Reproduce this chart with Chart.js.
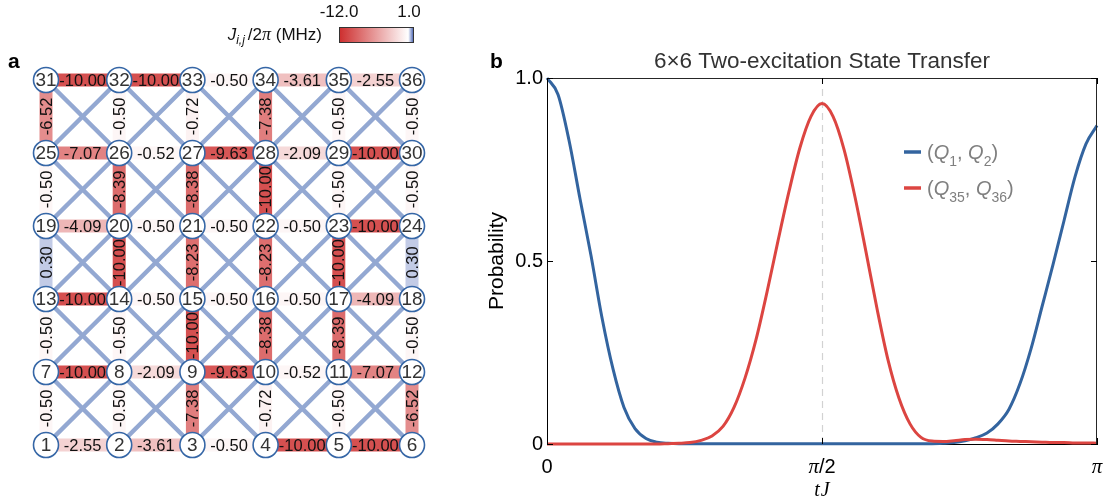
<!DOCTYPE html>
<html><head><meta charset="utf-8">
<script src="https://cdn.jsdelivr.net/npm/chart.js@4.4.1/dist/chart.umd.min.js"></script>
<style>
html,body{margin:0;padding:0;background:#fff;}
#wrap{position:relative;width:1106px;height:502px;overflow:hidden;}
#ca{position:absolute;left:0;top:0;}
#cb{position:absolute;left:440px;top:0;}
</style></head><body>
<div id="wrap">
<canvas id="ca" width="450" height="502"></canvas>
<canvas id="cb" width="666" height="502"></canvas>
</div>
<script>
// ---------------- DATA ----------------
const nodeLabels = [1,2,3,4,5,6,7,8,9,10,11,12,13,14,15,16,17,18,19,20,21,22,23,24,25,26,27,28,29,30,31,32,33,34,35,36];
// horizontal couplings, row by row from bottom (Q1..Q6) to top (Q31..Q36)
const hCouplings = [
  [-2.55, -3.61, -0.50, -10.00, -10.00],
  [-10.00, -2.09, -9.63, -0.52, -7.07],
  [-10.00, -0.50, -0.50, -0.50, -4.09],
  [-4.09, -0.50, -0.50, -0.50, -10.00],
  [-7.07, -0.52, -9.63, -2.09, -10.00],
  [-10.00, -10.00, -0.50, -3.61, -2.55]
];
// vertical couplings between row r and row r+1, columns 1..6
const vCouplings = [
  [-0.50, -0.50, -7.38, -0.72, -0.50, -6.52],
  [-0.50, -0.50, -10.00, -8.38, -8.39, -0.50],
  [0.30, -10.00, -8.23, -8.23, -10.00, 0.30],
  [-0.50, -8.39, -8.38, -10.00, -0.50, -0.50],
  [-6.52, -0.50, -0.72, -7.38, -0.50, -0.50]
];
const colorbarTicks = ['-12.0', '1.0'];

// panel b: time in units of pi (tJ / pi)
const tFrac = [0.00,0.02,0.04,0.06,0.08,0.10,0.12,0.14,0.16,0.18,0.20,0.22,0.24,0.26,0.28,0.30,0.32,0.34,0.36,0.38,0.40,0.42,0.44,0.46,0.48,0.50,0.52,0.54,0.56,0.58,0.60,0.62,0.64,0.66,0.68,0.70,0.72,0.74,0.76,0.78,0.80,0.82,0.84,0.86,0.88,0.90,0.92,0.94,0.96,0.98,1.00];
const pQ1Q2 = [1.000,0.955,0.830,0.670,0.515,0.345,0.205,0.100,0.042,0.015,0.005,0.002,0.001,0.001,0.001,0.001,0.001,0.001,0.001,0.001,0.001,0.001,0.001,0.001,0.001,0.001,0.001,0.001,0.001,0.001,0.001,0.001,0.001,0.001,0.001,0.001,0.002,0.004,0.009,0.017,0.030,0.055,0.095,0.165,0.260,0.375,0.490,0.610,0.730,0.820,0.870];
const pQ35Q36 = [0.000,0.000,0.000,0.000,0.000,0.000,0.000,0.000,0.000,0.000,0.000,0.001,0.002,0.004,0.010,0.022,0.048,0.100,0.180,0.285,0.415,0.555,0.690,0.810,0.895,0.930,0.895,0.805,0.675,0.525,0.370,0.230,0.125,0.055,0.018,0.008,0.007,0.009,0.012,0.013,0.012,0.010,0.008,0.007,0.006,0.005,0.004,0.004,0.003,0.003,0.002];
const xTickVals = [0, 0.5, 1];
const yTickVals = [0, 0.5, 1];

// ---------------- helpers ----------------
const SANS = '"Liberation Sans", Arial, Helvetica, sans-serif';
const SERIF = '"Liberation Serif", "DejaVu Serif", serif';
function jColor(v){
  if (v < 0){ const t = Math.min(1, -v/12);
    return `rgb(${Math.round(255-50*t)},${Math.round(255-210*t)},${Math.round(255-210*t)})`; }
  const t = Math.min(1, v);
  return `rgb(${Math.round(255-205*t)},${Math.round(255-175*t)},${Math.round(255-85*t)})`;
}
function drawRuns(ctx, runs, x, y, align, color){
  let w = 0;
  runs.forEach(r => { ctx.font = r.font; r.w = ctx.measureText(r.t).width; w += r.w + (r.gap||0); });
  let cx = align === 'center' ? x - w/2 : (align === 'right' ? x - w : x);
  ctx.fillStyle = color; ctx.textAlign = 'left'; ctx.textBaseline = 'alphabetic';
  runs.forEach(r => { ctx.font = r.font; ctx.fillText(r.t, cx, y + (r.dy||0)); cx += r.w + (r.gap||0); });
}

// ---------------- PANEL A ----------------
const datasetsA = [];
for (let r = 0; r < 5; r++) for (let c = 0; c < 5; c++){
  datasetsA.push({data:[{x:c,y:r},{x:c+1,y:r+1}], showLine:true, borderColor:'#93a8d2', borderWidth:4.5, pointRadius:0, order:3});
  datasetsA.push({data:[{x:c+1,y:r},{x:c,y:r+1}], showLine:true, borderColor:'#93a8d2', borderWidth:4.5, pointRadius:0, order:3});
}
hCouplings.forEach((row, r) => row.forEach((v, c) => {
  datasetsA.push({data:[{x:c,y:r},{x:c+1,y:r}], showLine:true, borderColor:jColor(v), borderWidth:13, borderCapStyle:'butt', pointRadius:0, order:2});
}));
vCouplings.forEach((row, r) => row.forEach((v, c) => {
  datasetsA.push({data:[{x:c,y:r},{x:c,y:r+1}], showLine:true, borderColor:jColor(v), borderWidth:13, borderCapStyle:'butt', pointRadius:0, order:2});
}));
datasetsA.push({data: nodeLabels.map((l, i) => ({x: i % 6, y: Math.floor(i / 6)})), showLine:false,
  pointRadius:12.5, pointBackgroundColor:'#ffffff', pointBorderColor:'#3566a6', pointBorderWidth:1.6, order:1});

const gridPlugin = {
  id:'gridPlugin',
  afterDatasetsDraw(chart){
    const ctx = chart.ctx, xs = chart.scales.x, ys = chart.scales.y;
    ctx.save();
    ctx.fillStyle = '#111'; ctx.textAlign = 'center'; ctx.textBaseline = 'middle';
    ctx.font = '16.5px ' + SANS;
    hCouplings.forEach((row, r) => row.forEach((v, c) => {
      ctx.fillText(v.toFixed(2), xs.getPixelForValue(c + 0.5), ys.getPixelForValue(r) + 1);
    }));
    vCouplings.forEach((row, r) => row.forEach((v, c) => {
      ctx.save();
      ctx.translate(xs.getPixelForValue(c) + 1, ys.getPixelForValue(r + 0.5));
      ctx.rotate(-Math.PI/2);
      ctx.fillText(v.toFixed(2), 0, 0);
      ctx.restore();
    }));
    ctx.font = '19px ' + SANS; ctx.fillStyle = '#333';
    nodeLabels.forEach((l, i) => {
      ctx.fillText(String(l), xs.getPixelForValue(i % 6), ys.getPixelForValue(Math.floor(i / 6)) + 1);
    });
    // colorbar
    const bx = 339, by = 27, bw = 75, bh = 16;
    const g = ctx.createLinearGradient(bx, 0, bx + bw, 0);
    g.addColorStop(0, jColor(-12)); g.addColorStop(12/13, '#ffffff'); g.addColorStop(1, jColor(1));
    ctx.fillStyle = g; ctx.fillRect(bx, by, bw, bh);
    ctx.strokeStyle = '#333'; ctx.lineWidth = 1; ctx.strokeRect(bx + 0.5, by + 0.5, bw - 1, bh - 1);
    ctx.fillStyle = '#111'; ctx.font = '17px ' + SANS; ctx.textAlign = 'center'; ctx.textBaseline = 'middle';
    ctx.fillText(colorbarTicks[0], bx, 12);
    ctx.fillText(colorbarTicks[1], bx + bw - 5, 12);
    drawRuns(ctx, [
      {t:'J', font:'italic 17px ' + SANS},
      {t:'i,j', font:'italic 12px ' + SANS, dy:4, gap:3},
      {t:'/2', font:'17px ' + SANS},
      {t:'π', font:'italic 18px ' + SERIF},
      {t:' (MHz)', font:'17px ' + SANS}
    ], 322, 40, 'right', '#111');
    // panel label
    ctx.fillStyle = '#000'; ctx.font = 'bold 21px ' + SANS; ctx.textAlign = 'left'; ctx.textBaseline = 'alphabetic';
    ctx.fillText('a', 8, 68);
    ctx.restore();
  }
};

new Chart(document.getElementById('ca'), {
  type:'scatter',
  data:{datasets:datasetsA},
  options:{
    responsive:false, animation:false, events:[], devicePixelRatio:1,
    layout:{padding:0, autoPadding:false},
    plugins:{legend:{display:false}, tooltip:{enabled:false}, title:{display:false}},
    scales:{
      x:{type:'linear', display:false, min:-0.6284, max:5.519},
      y:{type:'linear', display:false, min:-0.7808, max:6.0959}
    }
  },
  plugins:[gridPlugin]
});

// ---------------- PANEL B ----------------
const BLUE = '#33649f', RED = '#dc4541';
const plotPlugin = {
  id:'plotPlugin',
  beforeDatasetsDraw(chart){
    const ctx = chart.ctx, a = chart.chartArea, xs = chart.scales.x;
    ctx.save();
    ctx.strokeStyle = '#d2d2d2'; ctx.lineWidth = 1.2; ctx.setLineDash([7,5]);
    const x = Math.round(xs.getPixelForValue(0.5)) + 0.5;
    ctx.beginPath(); ctx.moveTo(x, a.bottom); ctx.lineTo(x, a.top); ctx.stroke();
    ctx.restore();
  },
  afterDraw(chart){
    const ctx = chart.ctx, a = chart.chartArea, xs = chart.scales.x, ys = chart.scales.y;
    ctx.save();
    // top & right box lines
    ctx.strokeStyle = '#262626'; ctx.lineWidth = 1;
    ctx.beginPath();
    ctx.moveTo(a.left, Math.round(a.top) + 0.5); ctx.lineTo(a.right, Math.round(a.top) + 0.5);
    ctx.moveTo(Math.round(a.right) - 0.5, a.top); ctx.lineTo(Math.round(a.right) - 0.5, a.bottom);
    ctx.stroke();
    // inward ticks
    ctx.strokeStyle = '#000'; ctx.beginPath();
    xTickVals.forEach(v => { const x = Math.round(xs.getPixelForValue(v)) + 0.5;
      ctx.moveTo(x, a.bottom); ctx.lineTo(x, a.bottom - 6);
      ctx.moveTo(x, a.top); ctx.lineTo(x, a.top + 6); });
    yTickVals.forEach(v => { const y = Math.round(ys.getPixelForValue(v)) + 0.5;
      ctx.moveTo(a.left, y); ctx.lineTo(a.left + 6, y);
      ctx.moveTo(a.right, y); ctx.lineTo(a.right - 6, y); });
    ctx.stroke();
    // x tick labels
    const ly = a.bottom + 29;
    drawRuns(ctx, [{t:'0', font:'20px ' + SANS}], xs.getPixelForValue(0), ly, 'center', '#000');
    drawRuns(ctx, [{t:'π', font:'italic 21px ' + SERIF}, {t:'/2', font:'20px ' + SANS}], xs.getPixelForValue(0.5), ly, 'center', '#000');
    drawRuns(ctx, [{t:'π', font:'italic 21px ' + SERIF}], xs.getPixelForValue(1), ly, 'center', '#000');
    drawRuns(ctx, [{t:'t', font:'italic 20px ' + SERIF, gap:1}, {t:'J', font:'italic 20px ' + SERIF}], (a.left + a.right)/2, a.bottom + 52, 'center', '#000');
    // y label
    ctx.save();
    ctx.translate(a.left - 50, (a.top + a.bottom)/2);
    ctx.rotate(-Math.PI/2);
    ctx.fillStyle = '#000'; ctx.font = '21px ' + SANS; ctx.textAlign = 'center'; ctx.textBaseline = 'middle';
    ctx.fillText('Probability', 0, 0);
    ctx.restore();
    // title
    ctx.fillStyle = '#333'; ctx.font = '22.5px ' + SANS; ctx.textAlign = 'center'; ctx.textBaseline = 'middle';
    ctx.fillText('6×6 Two-excitation State Transfer', (a.left + a.right)/2, 62);
    // legend
    const lx = 464, items = [
      {c:BLUE, y:152, runs:[{t:'(', font:'20px ' + SANS},{t:'Q', font:'italic 20px ' + SANS},{t:'1', font:'14px ' + SANS, dy:7},{t:', ', font:'20px ' + SANS},{t:'Q', font:'italic 20px ' + SANS},{t:'2', font:'14px ' + SANS, dy:7},{t:')', font:'20px ' + SANS}]},
      {c:RED, y:188, runs:[{t:'(', font:'20px ' + SANS},{t:'Q', font:'italic 20px ' + SANS},{t:'35', font:'14px ' + SANS, dy:7},{t:', ', font:'20px ' + SANS},{t:'Q', font:'italic 20px ' + SANS},{t:'36', font:'14px ' + SANS, dy:7},{t:')', font:'20px ' + SANS}]}
    ];
    items.forEach(it => {
      ctx.strokeStyle = it.c; ctx.lineWidth = 3.5; ctx.setLineDash([]);
      ctx.beginPath(); ctx.moveTo(lx, it.y); ctx.lineTo(lx + 17, it.y); ctx.stroke();
      drawRuns(ctx, it.runs, lx + 23, it.y + 7, 'left', '#7f7f7f');
    });
    // panel label
    ctx.fillStyle = '#000'; ctx.font = 'bold 21px ' + SANS; ctx.textAlign = 'left'; ctx.textBaseline = 'alphabetic';
    ctx.fillText('b', 50, 68);
    ctx.restore();
  }
};

new Chart(document.getElementById('cb'), {
  type:'line',
  data:{datasets:[
    {label:'(Q35, Q36)', data:tFrac.map((t, i) => ({x:t, y:pQ35Q36[i]})), borderColor:RED, borderWidth:3, pointRadius:0, cubicInterpolationMode:'monotone', order:0, clip:false},
    {label:'(Q1, Q2)', data:tFrac.map((t, i) => ({x:t, y:pQ1Q2[i]})), borderColor:BLUE, borderWidth:3, pointRadius:0, cubicInterpolationMode:'monotone', order:1, clip:false}
  ]},
  options:{
    responsive:false, animation:false, events:[], devicePixelRatio:1,
    layout:{padding:{left:47, right:9, top:78, bottom:18}, autoPadding:false},
    plugins:{legend:{display:false}, tooltip:{enabled:false}, title:{display:false}},
    scales:{
      x:{type:'linear', min:0, max:1, afterFit:s => { s.height = 40; },
         ticks:{display:false}, grid:{display:false}, border:{display:true, color:'#000', width:1}},
      y:{type:'linear', min:0, max:1, afterFit:s => { s.width = 60; },
         ticks:{stepSize:0.5, callback:v => v === 0 ? '0' : v.toFixed(1), font:{family:SANS, size:20}, color:'#000', padding:-4},
         grid:{display:false}, border:{display:true, color:'#000', width:1}}
    }
  },
  plugins:[plotPlugin]
});
</script>
</body></html>
